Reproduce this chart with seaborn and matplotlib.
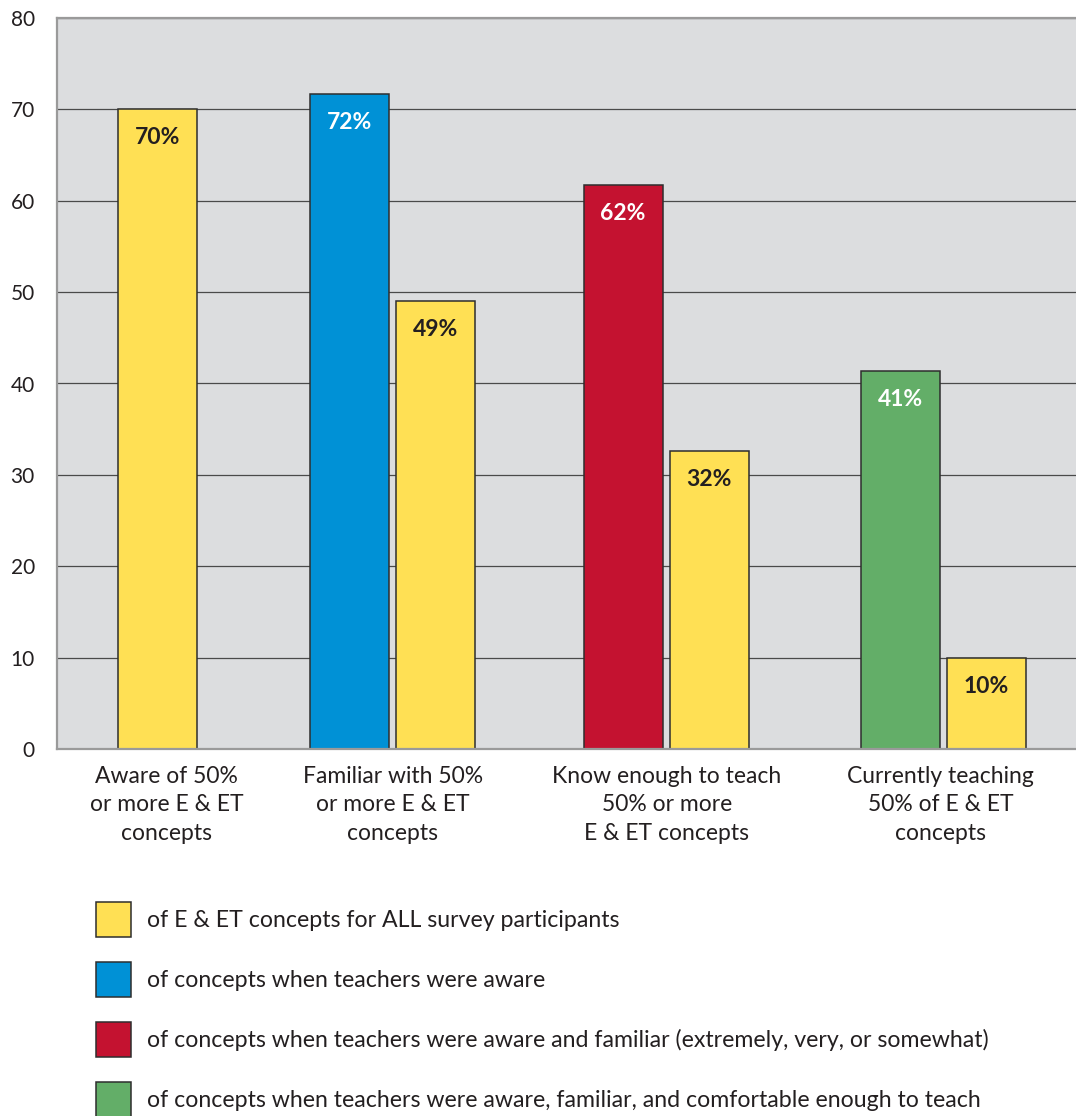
import numpy as np
import pandas as pd
import matplotlib
matplotlib.use("Agg")
import matplotlib.pyplot as plt
import seaborn as sns

# ---------------- data ----------------
categories = [
    "Aware of 50%\nor more E & ET\nconcepts",
    "Familiar with 50%\nor more E & ET\nconcepts",
    "Know enough to teach\n50% or more\nE & ET concepts",
    "Currently teaching\n50% of E & ET\nconcepts",
]
series_names = [
    "of E & ET concepts for ALL survey participants",
    "of concepts when teachers were aware",
    "of concepts when teachers were aware and familiar (extremely, very, or somewhat)",
    "of concepts when teachers were aware, familiar, and comfortable enough to teach",
]
# subgroup value (None where the category has no such bar)
subgroup_values = [None, 71.7, 61.7, 41.4]
subgroup_labels = [None, "72%", "62%", "41%"]
all_values = [70.0, 49.0, 32.6, 10.0]
all_labels = ["70%", "49%", "32%", "10%"]
y_ticks = [0, 10, 20, 30, 40, 50, 60, 70, 80]

# ---------------- style ----------------
colors = ["#FFE054", "#0091D6", "#C41230", "#63AE68"]
label_colors = ["#231F20", "white", "white", "white"]
text_color = "#231F20"

sns.set_style("white")
plt.rcParams["font.family"] = ["Lato", "DejaVu Sans"]

# layout: group centres on the category axis and half distance between paired bars
group_centers = [0.14, 1.0, 1.997, 3.01]
label_centers = [0.175, 1.0, 2.0, 3.0]
half_pair = 0.157
bar_w = 0.288

rows = []
for gi, cat in enumerate(categories):
    has_sub = subgroup_values[gi] is not None
    c = group_centers[gi]
    if has_sub:
        rows.append(dict(pos=c - half_pair, value=subgroup_values[gi],
                         series=series_names[gi], label=subgroup_labels[gi],
                         lc=label_colors[gi]))
        rows.append(dict(pos=c + half_pair, value=all_values[gi],
                         series=series_names[0], label=all_labels[gi],
                         lc=label_colors[0]))
    else:
        rows.append(dict(pos=c, value=all_values[gi],
                         series=series_names[0], label=all_labels[gi],
                         lc=label_colors[0]))
df = pd.DataFrame(rows)

fig = plt.figure(figsize=(10.76, 11.16), dpi=100)
ax = fig.add_axes([57 / 1076, 1 - 749 / 1116, 1 - 57 / 1076, (749 - 18) / 1116])
ax.set_facecolor("#DCDDDF")

min_gap = np.min(np.diff(np.unique(df["pos"].values)))
sns.barplot(data=df, x="pos", y="value", hue="series", hue_order=series_names,
            palette=colors, native_scale=True, dodge=False, saturation=1,
            width=bar_w / min_gap, edgecolor="#2E2E2E", linewidth=1.1,
            ax=ax, zorder=3)

ax.set_xlim(-0.226, 3.493)
ax.set_ylim(0, 80)
ax.set_yticks(y_ticks)
ax.set_yticklabels([str(t) for t in y_ticks], fontsize=15, color=text_color)
ax.yaxis.grid(True, color="#4A4A4A", linewidth=0.9, zorder=1)
ax.set_axisbelow(True)
ax.tick_params(axis="y", length=0, pad=16)
ax.set_xticks(label_centers)
ax.set_xticklabels(categories, fontsize=16.5, color=text_color, linespacing=1.45)
ax.tick_params(axis="x", length=0, pad=12)
ax.set_xlabel("")
ax.set_ylabel("")
for s in ["left", "bottom", "top"]:
    ax.spines[s].set_color("#9A9A9A")
    ax.spines[s].set_linewidth(1.6)
    ax.spines[s].set_zorder(4)
ax.spines["right"].set_visible(False)

for _, r in df.iterrows():
    ax.annotate(r["label"], xy=(r["pos"], r["value"]), xytext=(0, -20.5),
                textcoords="offset points", ha="center", va="center",
                fontsize=16.5, fontweight="bold", color=r["lc"], zorder=5)

leg = ax.get_legend()
handles = list(leg.legend_handles)
labels = [t.get_text() for t in leg.get_texts()]
leg.remove()
for h in handles:
    h.set_edgecolor("#2E2E2E")
    h.set_linewidth(1.1)

fs = 16.7
fpx = fs * 100 / 72
box = 35 / fpx
hh = (box - 0.245) / 0.65
fig.legend(handles, labels, loc="upper left",
           bbox_to_anchor=(96 / 1076, 1 - 902 / 1116),
           frameon=False, fontsize=fs, labelcolor=text_color,
           handlelength=box, handleheight=hh,
           labelspacing=(60 - 35) / fpx, handletextpad=16 / fpx,
           borderpad=0, borderaxespad=0)

fig.savefig("out.png", dpi=100)
